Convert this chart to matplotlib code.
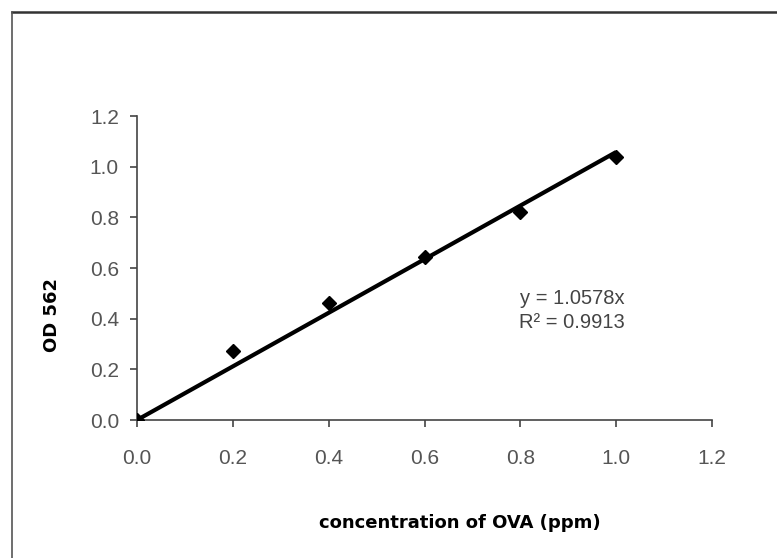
import matplotlib
matplotlib.use("Agg")
import matplotlib.pyplot as plt
from matplotlib.lines import Line2D
import numpy as np

plt.rcParams['font.family'] = ['Liberation Sans', 'DejaVu Sans']

conc = [0.0, 0.2, 0.4, 0.6, 0.8, 1.0]
od562 = [0.0, 0.272, 0.46, 0.643, 0.82, 1.04]
slope = 1.0578
r2 = 0.9913
xticks = [0.0, 0.2, 0.4, 0.6, 0.8, 1.0, 1.2]
yticks = [0.0, 0.2, 0.4, 0.6, 0.8, 1.0, 1.2]

W, H = 777, 558
fig = plt.figure(figsize=(W / 100, H / 100), dpi=100)
ax = fig.add_axes([137 / W, 1 - 420 / H, (712 - 137) / W, (420 - 116) / H])

fx = np.array([0.0, 1.0])
ax.plot(fx, slope * fx, color='black', lw=3.0, solid_capstyle='butt', zorder=2)
ax.plot(conc, od562, linestyle='none', marker='D', color='black', markersize=7.5, zorder=3)

ax.set_xlim(0, 1.2)
ax.set_ylim(0, 1.2)
ax.set_xticks(xticks)
ax.set_yticks(yticks)
ax.set_xticklabels([f"{v:.1f}" for v in xticks])
ax.set_yticklabels([f"{v:.1f}" for v in yticks])
for s in ['top', 'right']:
    ax.spines[s].set_visible(False)
for s in ['left', 'bottom']:
    ax.spines[s].set_color('#444444')
    ax.spines[s].set_linewidth(1.2)
ax.tick_params(axis='both', direction='out', length=5, width=1.2, color='#444444',
               labelsize=15, labelcolor='#555555')
ax.tick_params(axis='x', pad=16)
ax.tick_params(axis='y', pad=8)

ax.text(0.908, 0.48, f"y = {slope}x", fontsize=14.5, color='#444444', ha='center', va='center')
ax.text(0.908, 0.385, f"R² = {r2}", fontsize=14.5, color='#444444', ha='center', va='center')

fig.text(460 / W, 1 - 523 / H, "concentration of OVA (ppm)", fontsize=13, fontweight='bold',
         family='DejaVu Sans', ha='center', va='center')
fig.text(52 / W, 1 - 315 / H, "OD 562", fontsize=13, fontweight='bold', rotation=90,
         family='DejaVu Sans', ha='center', va='center')

fig.add_artist(Line2D([12 / W, 1], [1 - 12 / H, 1 - 12 / H], transform=fig.transFigure,
                      color='#333333', lw=1.8))
fig.add_artist(Line2D([12 / W, 12 / W], [1 - 12 / H, 0], transform=fig.transFigure,
                      color='#555555', lw=1.2))

fig.savefig('out.png', dpi=100)
